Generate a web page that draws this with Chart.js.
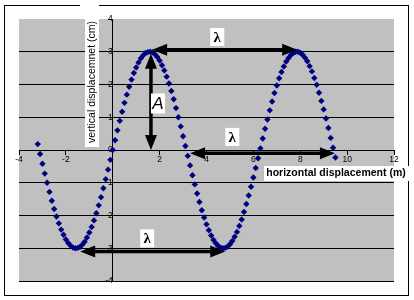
<!DOCTYPE html>
<html>
<head>
<meta charset="utf-8">
<script src="https://cdn.jsdelivr.net/npm/chart.js@4.4.0/dist/chart.umd.min.js"></script>
<style>
  html, body { margin: 0; padding: 0; background: #fff; }
  #wrap { width: 414px; height: 300px; }
</style>
</head>
<body>
<div id="wrap"><canvas id="wave" width="414" height="300"></canvas></div>
<script>
// horizontal displacement (m) of each plotted point
const xValues = [
  -3.2, -3.1, -3.0, -2.9, -2.8, -2.7, -2.6, -2.5, -2.4, -2.3,
  -2.2, -2.1, -2.0, -1.9, -1.8, -1.7, -1.6, -1.5, -1.4, -1.3,
  -1.2, -1.1, -1.0, -0.9, -0.8, -0.7, -0.6, -0.5, -0.4, -0.3,
  -0.2, -0.1, 0.0, 0.1, 0.2, 0.3, 0.4, 0.5, 0.6, 0.7,
  0.8, 0.9, 1.0, 1.1, 1.2, 1.3, 1.4, 1.5, 1.6, 1.7,
  1.8, 1.9, 2.0, 2.1, 2.2, 2.3, 2.4, 2.5, 2.6, 2.7,
  2.8, 2.9, 3.0, 3.1, 3.2, 3.3, 3.4, 3.5, 3.6, 3.7,
  3.8, 3.9, 4.0, 4.1, 4.2, 4.3, 4.4, 4.5, 4.6, 4.7,
  4.8, 4.9, 5.0, 5.1, 5.2, 5.3, 5.4, 5.5, 5.6, 5.7,
  5.8, 5.9, 6.0, 6.1, 6.2, 6.3, 6.4, 6.5, 6.6, 6.7,
  6.8, 6.9, 7.0, 7.1, 7.2, 7.3, 7.4, 7.5, 7.6, 7.7,
  7.8, 7.9, 8.0, 8.1, 8.2, 8.3, 8.4, 8.5, 8.6, 8.7,
  8.8, 8.9, 9.0, 9.1, 9.2, 9.3, 9.4, 9.5
];
// vertical displacement (cm)
const yValues = [
  0.18, -0.12, -0.42, -0.72, -1.00, -1.28, -1.55, -1.80, -2.03, -2.24,
  -2.43, -2.59, -2.73, -2.84, -2.92, -2.98, -3.00, -2.99, -2.96, -2.89,
  -2.80, -2.67, -2.52, -2.35, -2.15, -1.93, -1.69, -1.44, -1.17, -0.89,
  -0.60, -0.30, 0.00, 0.30, 0.60, 0.89, 1.17, 1.44, 1.69, 1.93,
  2.15, 2.35, 2.52, 2.67, 2.80, 2.89, 2.96, 2.99, 3.00, 2.98,
  2.92, 2.84, 2.73, 2.59, 2.43, 2.24, 2.03, 1.80, 1.55, 1.28,
  1.00, 0.72, 0.42, 0.12, -0.18, -0.47, -0.77, -1.05, -1.33, -1.59,
  -1.84, -2.06, -2.27, -2.45, -2.61, -2.75, -2.85, -2.93, -2.98, -3.00,
  -2.99, -2.95, -2.88, -2.78, -2.65, -2.50, -2.32, -2.12, -1.89, -1.65,
  -1.39, -1.12, -0.84, -0.55, -0.25, 0.05, 0.35, 0.65, 0.93, 1.21,
  1.48, 1.74, 1.97, 2.19, 2.38, 2.55, 2.70, 2.81, 2.90, 2.96,
  3.00, 3.00, 2.97, 2.91, 2.82, 2.71, 2.56, 2.40, 2.20, 1.99,
  1.75, 1.50, 1.24, 0.96, 0.67, 0.37, 0.07, -0.23
];

// double-headed arrows (data units): wavelength x3, amplitude x1
const arrowX1 = [1.68, 1.63, 3.30, -1.39];
const arrowY1 = [3.06, 2.94, -0.10, -3.10];
const arrowX2 = [7.87, 1.63, 9.48, 4.80];
const arrowY2 = [3.06, 0.00, -0.10, -3.10];

// labels next to the arrows
const labelText = ["λ", "A", "λ", "λ"];
const labelX = [4.46, 1.93, 5.10, 1.47];
const labelY = [3.45, 1.42, 0.40, -2.70];

const xTitle = "horizontal displacement (m)";
const yTitle = "vertical displacemnet (cm)";

const points = xValues.map((x, i) => ({ x: x, y: yValues[i] }));

function arrowHead(ctx, fx, fy, tx, ty) {
  const ang = Math.atan2(ty - fy, tx - fx);
  const len = 15, half = 6;
  ctx.beginPath();
  ctx.moveTo(tx, ty);
  ctx.lineTo(tx - len * Math.cos(ang) + half * Math.sin(ang), ty - len * Math.sin(ang) - half * Math.cos(ang));
  ctx.lineTo(tx - len * Math.cos(ang) - half * Math.sin(ang), ty - len * Math.sin(ang) + half * Math.cos(ang));
  ctx.closePath();
  ctx.fill();
}

const backdrop = {
  id: "backdrop",
  beforeDraw(chart) {
    const { ctx, chartArea: a } = chart;
    ctx.save();
    ctx.fillStyle = "#fff";
    ctx.fillRect(0, 0, chart.width, chart.height);
    ctx.strokeStyle = "#000";
    ctx.lineWidth = 1;
    ctx.strokeRect(4.5, 5.5, 404, 290);
    ctx.fillStyle = "#c0c0c0";
    ctx.fillRect(a.left, a.top, a.right - a.left, a.bottom - a.top);
    ctx.restore();
  }
};

const notes = {
  id: "notes",
  afterDraw(chart) {
    const { ctx } = chart;
    const sx = chart.scales.x, sy = chart.scales.y;
    ctx.save();

    // arrows
    ctx.strokeStyle = "#000";
    ctx.fillStyle = "#000";
    ctx.lineWidth = 3.5;
    arrowX1.forEach((_, i) => {
      const x1 = sx.getPixelForValue(arrowX1[i]), y1 = sy.getPixelForValue(arrowY1[i]);
      const x2 = sx.getPixelForValue(arrowX2[i]), y2 = sy.getPixelForValue(arrowY2[i]);
      const ang = Math.atan2(y2 - y1, x2 - x1);
      ctx.beginPath();
      ctx.moveTo(x1 + 10 * Math.cos(ang), y1 + 10 * Math.sin(ang));
      ctx.lineTo(x2 - 10 * Math.cos(ang), y2 - 10 * Math.sin(ang));
      ctx.stroke();
      arrowHead(ctx, x1, y1, x2, y2);
      arrowHead(ctx, x2, y2, x1, y1);
    });

    // λ / A labels on white boxes
    ctx.textAlign = "center";
    ctx.textBaseline = "middle";
    labelText.forEach((t, i) => {
      const px = sx.getPixelForValue(labelX[i]), py = sy.getPixelForValue(labelY[i]);
      ctx.fillStyle = "#fff";
      if (t === "A") {
        ctx.fillRect(px - 7, py - 10, 14, 20);
        ctx.font = "italic 17px 'Liberation Sans'";
      } else {
        ctx.fillRect(px - 7, py - 9, 14, 18);
        ctx.font = "bold 15px 'Liberation Serif'";
      }
      ctx.fillStyle = "#000";
      ctx.fillText(t, px, py + 1);
    });

    // x axis title
    ctx.fillStyle = "#fff";
    ctx.fillRect(264, 166, 145, 15);
    ctx.fillStyle = "#000";
    ctx.font = "bold 10.5px 'Liberation Sans'";
    ctx.fillText(xTitle, 336, 173.5);

    // y axis title (rotated)
    ctx.fillStyle = "#fff";
    ctx.fillRect(80, 0, 19, 8);
    ctx.fillRect(85, 0, 14, 147);
    ctx.translate(92, 82);
    ctx.rotate(-Math.PI / 2);
    ctx.fillStyle = "#000";
    ctx.font = "10.5px 'Liberation Sans'";
    ctx.fillText(yTitle, 0, 0);

    ctx.restore();
  }
};

new Chart(document.getElementById("wave"), {
  type: "scatter",
  data: {
    datasets: [{
      data: points,
      pointStyle: "rectRot",
      pointRadius: 3.2,
      pointBorderWidth: 0,
      backgroundColor: "#000080",
      borderColor: "#000080"
    }]
  },
  options: {
    responsive: false,
    animation: false,
    devicePixelRatio: 1,
    layout: { padding: { left: 19, top: 19, right: 20, bottom: 19 } },
    plugins: { legend: { display: false }, tooltip: { enabled: false } },
    scales: {
      x: {
        type: "linear",
        min: -4, max: 12,
        position: { y: 0 },
        ticks: {
          stepSize: 2,
          autoSkip: false,
          maxRotation: 0,
          padding: 1,
          color: "#000",
          font: { family: "'Liberation Sans'", size: 8.5 },
          callback: v => (v === 0 ? "" : v)
        },
        grid: { drawOnChartArea: false, tickColor: "#000", tickLength: 4 },
        border: { color: "#000", width: 1 }
      },
      y: {
        type: "linear",
        min: -4, max: 4,
        position: { x: 0 },
        ticks: {
          stepSize: 1,
          padding: 1,
          color: "#000",
          font: { family: "'Liberation Sans'", size: 8.5 }
        },
        grid: {
          color: c => (c.tick && c.tick.value === 4 ? "rgba(0,0,0,0)" : "#000"),
          tickColor: "#000",
          tickLength: 4
        },
        border: { color: "#000", width: 1 }
      }
    }
  },
  plugins: [backdrop, notes]
});
</script>
</body>
</html>
